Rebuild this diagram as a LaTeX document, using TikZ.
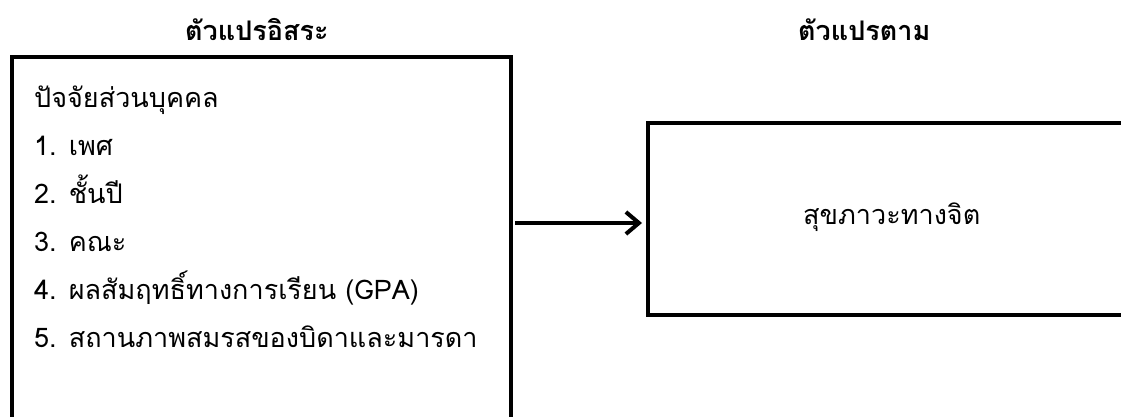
\documentclass[tikz,border=0pt]{standalone}
\usepackage{fontspec}
\newfontfamily\thaifont[Script=Thai]{Loma}
\usetikzlibrary{arrows.meta}
\begin{document}
\begin{tikzpicture}[x=1pt,y=-1pt,
  box/.style={draw=black,line width=4.5pt},
  item/.style={anchor=base west,inner sep=0pt,font=\thaifont\fontsize{27}{32}\selectfont},
  head/.style={anchor=base west,inner sep=0pt,font=\thaifont\bfseries\fontsize{27}{32}\selectfont},
  conn/.style={line width=4pt,-{Straight Barb[length=13pt,width=22pt,line width=4pt]}}]
\useasboundingbox (0,0) rectangle (1121,416);
\fill[white] (0,0) rectangle (1121,416);
\node[head] (t1) at (185,40) {ตัวแปรอิสระ};
\node[head] (t2) at (798,40) {ตัวแปรตาม};
\draw[box] (12,430) -- (12,57) -- (511,57) -- (511,430);
\coordinate (lbR) at (511,223);
\draw[box] (1130,123) -- (648,123) -- (648,315) -- (1130,315);
\coordinate (rbL) at (648,223);
\node[item] (i0) at (34,107) {ปัจจัยส่วนบุคคล};
\node[item] (i1) at (34,155) {1. เพศ};
\node[item] (i2) at (34,203) {2. ชั้นปี};
\node[item] (i3) at (34,251) {3. คณะ};
\node[item] (i4) at (34,299) {4. ผลสัมฤทธิ์ทางการเรียน (GPA)};
\node[item] (i5) at (34,347) {5. สถานภาพสมรสของบิดาและมารดา};
\node[item] (r) at (803,224) {สุขภาวะทางจิต};
\draw[conn] ([xshift=4pt]lbR) -- ([xshift=-6pt]rbL);
\end{tikzpicture}
\end{document}
